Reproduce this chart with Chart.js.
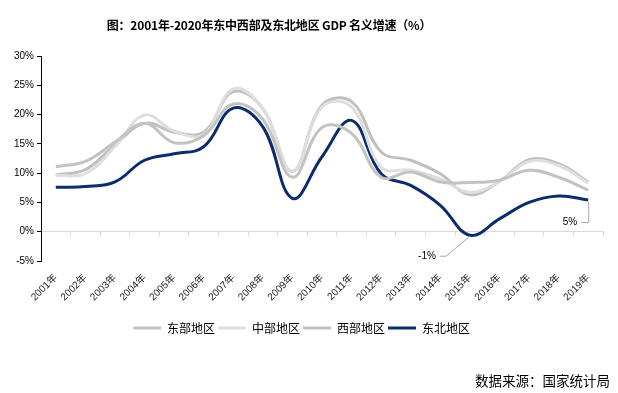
<!DOCTYPE html>
<html>
<head>
<meta charset="utf-8">
<script src="https://cdn.jsdelivr.net/npm/chart.js@4.4.1/dist/chart.umd.min.js"></script>
<style>
  html, body { margin: 0; padding: 0; background: #fff; }
  #wrap { position: relative; width: 618px; height: 393px; overflow: hidden; }
  #title { position: absolute; left: 0; width: 538px; top: 16px; text-align: center;
    font: bold 12px "Noto Sans CJK SC", "Noto Sans", sans-serif; color: #000; white-space: nowrap; letter-spacing: -0.2px; }
  #source { position: absolute; right: 8px; top: 370px;
    font: 13.5px "Noto Sans CJK SC", sans-serif; color: #000; white-space: nowrap; }
  canvas { position: absolute; left: 0; top: 0; }
</style>
</head>
<body>
<div id="wrap">
  <canvas id="c" width="618" height="393"></canvas>
  <div id="title">图：2001年-2020年东中西部及东北地区 GDP 名义增速（%）</div>
  <div id="source">数据来源：国家统计局</div>
</div>
<script>
const years = ['2001年','2002年','2003年','2004年','2005年','2006年','2007年','2008年','2009年','2010年',
               '2011年','2012年','2013年','2014年','2015年','2016年','2017年','2018年','2019年'];
const seriesNames = ['东部地区','中部地区','西部地区','东北地区'];
const east      = [11.1, 12.0, 15.3, 18.5, 15.2, 16.4, 21.8, 19.2, 9.3, 17.8, 16.8, 9.3, 10.2, 8.5, 8.4, 8.8, 10.5, 9.3, 7.1];
const central   = [9.6, 9.9, 14.5, 19.9, 17.2, 16.6, 24.4, 21.0, 10.4, 21.3, 21.3, 11.0, 10.5, 9.0, 6.7, 8.6, 12.0, 11.3, 8.3];
const west      = [9.7, 10.6, 14.8, 18.5, 17.0, 17.0, 23.9, 21.0, 10.3, 21.6, 22.2, 13.6, 12.2, 9.9, 6.3, 8.6, 12.3, 11.6, 8.5];
const northeast = [7.6, 7.7, 8.5, 12.2, 13.3, 14.5, 21.1, 17.9, 5.7, 12.8, 19.0, 9.9, 7.9, 4.5, -0.6, 2.2, 5.0, 6.1, 5.4];
const yTicks = [-5, 0, 5, 10, 15, 20, 25, 30];
const labelledPoints = [14, 18]; // indices of 东北地区 points with value labels

const colors = ['#c3c3c3', '#dedede', '#c0c0c0', '#0b2d6b'];
const allData = [east, central, west, northeast];

const valueLabels = {
  id: 'valueLabels',
  afterDatasetsDraw(chart) {
    const meta = chart.getDatasetMeta(3);
    const ctx = chart.ctx;
    ctx.save();
    ctx.strokeStyle = '#a6a6a6';
    ctx.lineWidth = 1;
    ctx.fillStyle = '#000';
    ctx.font = '10px "Liberation Sans", sans-serif';
    ctx.textBaseline = 'middle';
    ctx.textAlign = 'right';
    labelledPoints.forEach((idx, k) => {
      const p = meta.data[idx];
      const v = northeast[idx];
      const txt = Math.round(v) + '%';
      ctx.beginPath();
      if (k === 0) {
        ctx.moveTo(p.x, p.y + 1);
        ctx.lineTo(p.x - 24, p.y + 21);
        ctx.lineTo(p.x - 30, p.y + 21);
        ctx.stroke();
        ctx.fillText(txt, p.x - 34, p.y + 21);
      } else {
        ctx.moveTo(p.x + 0.5, p.y + 2);
        ctx.lineTo(p.x + 0.5, p.y + 22.5);
        ctx.lineTo(p.x - 7, p.y + 22.5);
        ctx.stroke();
        ctx.fillText(txt, p.x - 11, p.y + 22);
      }
    });
    ctx.restore();
  }
};

new Chart(document.getElementById('c'), {
  type: 'line',
  data: {
    labels: years,
    datasets: allData.map((d, i) => ({
      label: seriesNames[i],
      data: d,
      borderColor: colors[i],
      backgroundColor: colors[i],
      borderWidth: 3,
      pointRadius: 0,
      tension: 0.4,
      fill: false
    }))
  },
  options: {
    responsive: false,
    animation: false,
    devicePixelRatio: 1,
    layout: { padding: { top: 56, right: 15, left: 0, bottom: 49 } },
    plugins: {
      legend: {
        position: 'bottom',
        labels: {
          boxWidth: 28,
          boxHeight: 3,
          padding: 3,
          color: '#000',
          font: { size: 12, family: '"Noto Sans CJK SC", sans-serif' },
          generateLabels(chart) {
            const items = Chart.defaults.plugins.legend.labels.generateLabels(chart);
            items.forEach(it => { it.lineWidth = 0; it.strokeStyle = 'rgba(0,0,0,0)'; });
            return items;
          }
        }
      },
      tooltip: { enabled: false },
      title: { display: false }
    },
    scales: {
      x: {
        type: 'category',
        offset: true,
        position: 'bottom',
        border: { display: false },
        grid: { display: false, offset: true },
        ticks: {
          minRotation: 45,
          maxRotation: 45,
          autoSkip: false,
          padding: 3,
          color: '#1a1a1a',
          font: { size: 10, family: '"Liberation Sans", "Noto Sans CJK SC", sans-serif' }
        },
        afterFit(scale) { scale.height = 58; }
      },
      x2: {
        type: 'category',
        offset: true,
        position: { y: 0 },
        border: { display: true, color: '#d9d9d9', width: 1 },
        grid: { display: true, offset: true, drawOnChartArea: false, drawTicks: true, tickLength: 4, color: '#d9d9d9' },
        ticks: { display: false }
      },
      y: {
        min: -5,
        max: 30,
        afterBuildTicks(scale) { scale.ticks = yTicks.map(v => ({ value: v })); },
        border: { display: true, color: '#000', width: 1 },
        grid: { drawOnChartArea: false, drawTicks: true, tickLength: 4, color: '#000' },
        ticks: {
          padding: 3,
          color: '#000',
          font: { size: 10, family: '"Liberation Sans", sans-serif' },
          callback: (v) => v + '%'
        },
        afterFit(scale) { scale.width = 41; }
      }
    }
  },
  plugins: [valueLabels]
});
</script>
</body>
</html>
